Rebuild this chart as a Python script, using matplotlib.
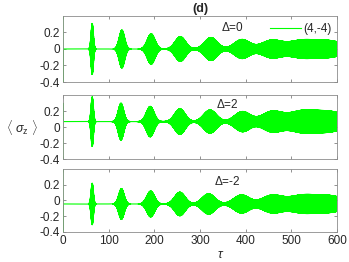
import numpy as np
import matplotlib
matplotlib.use('Agg')
import matplotlib.pyplot as plt

plt.rcParams['font.family'] = ['Liberation Sans', 'DejaVu Sans']
plt.rcParams['mathtext.fontset'] = 'custom'
plt.rcParams['mathtext.rm'] = 'Liberation Sans'
plt.rcParams['mathtext.it'] = 'Liberation Sans:italic'

# revival times, envelope heights and widths
labels = ['$\\Delta$=0', '$\\Delta$=2', '$\\Delta$=-2']
centers = [0.0, 0.07, -0.045]
start_vals = [[1.0, -1.0], [-1.0, 0.3], [1.0, -1.0]]
t_rev = [
    [64, 129, 193, 257, 324, 392, 456, 520, 585],
    [64, 127, 191, 256, 322, 393, 457, 521, 586],
    [64, 128, 192, 256, 319, 391, 457, 521, 586],
]
amp_rev = [
    [0.31, 0.23, 0.185, 0.15, 0.14, 0.115, 0.10, 0.095, 0.095],
    [0.31, 0.23, 0.19, 0.16, 0.145, 0.125, 0.12, 0.12, 0.12],
    [0.265, 0.195, 0.165, 0.15, 0.13, 0.115, 0.105, 0.10, 0.10],
]
width_rev = [2.6, 6.0, 8.5, 11.5, 14, 17, 22, 30, 34]
xticks = [0, 100, 200, 300, 400, 500, 600]
yticks = [-0.4, -0.2, 0, 0.2]
green = '#00ff00'

tau = np.linspace(0, 600, 40000)
carrier = np.cos(2 * np.pi * 3.1 * tau)

fig = plt.figure(figsize=(3.49, 2.62), dpi=100)
boxes = [[0.1805, 0.687, 0.785, 0.252],
         [0.1805, 0.392, 0.785, 0.245],
         [0.1805, 0.115, 0.785, 0.24]]
txt_pos = [(0.62, 0.82), (0.6, 0.86), (0.6, 0.80)]

for i in range(3):
    ax = fig.add_axes(boxes[i])
    env = np.zeros_like(tau)
    for tk, ak, sk in zip(t_rev[i], amp_rev[i], width_rev):
        env += ak * np.exp(-(tau - tk) ** 2 / (2 * sk ** 2))
    y = centers[i] + env * carrier
    y[:len(start_vals[i])] = start_vals[i]
    ln, = ax.plot(tau, y, color=green, lw=0.8, label='(4,-4)')
    ax.set_xlim(0, 600)
    ax.set_ylim(-0.4, 0.4)
    ax.set_xticks(xticks)
    ax.set_yticks(yticks)
    ax.set_yticklabels(['-0.4', '-0.2', '0', '0.2'])
    if i < 2:
        ax.set_xticklabels([])
    ax.tick_params(direction='in', length=2.5, width=0.5, color='0.4',
                   top=True, right=True, labelsize=8.5, labelcolor='#262626', pad=2)
    for s in ax.spines.values():
        s.set_color('0.55')
        s.set_linewidth(0.6)
    ax.text(txt_pos[i][0], txt_pos[i][1], labels[i], transform=ax.transAxes,
            ha='center', va='center', fontsize=8.5, color='#262626')
    if i == 0:
        ax.set_title('(d)', fontsize=9, fontweight='bold', pad=3, color='#262626')
        ax.legend(handles=[ln], loc='upper right', frameon=False, fontsize=8.5,
                  handlelength=2.6, handletextpad=0.2, borderaxespad=0.05,
                  bbox_to_anchor=(1.0, 0.97), labelcolor='#262626')

fig.text(22 / 349, 1 - 128 / 262, r'$\langle\ \sigma_{\rm z}\ \rangle$', ha='center', va='center',
         fontsize=9, color='#262626')
fig.text(221 / 349, 1 - 255 / 262, r'$\tau$', ha='center', va='center', fontsize=9, color='#262626')

fig.savefig('out.png', dpi=100)
